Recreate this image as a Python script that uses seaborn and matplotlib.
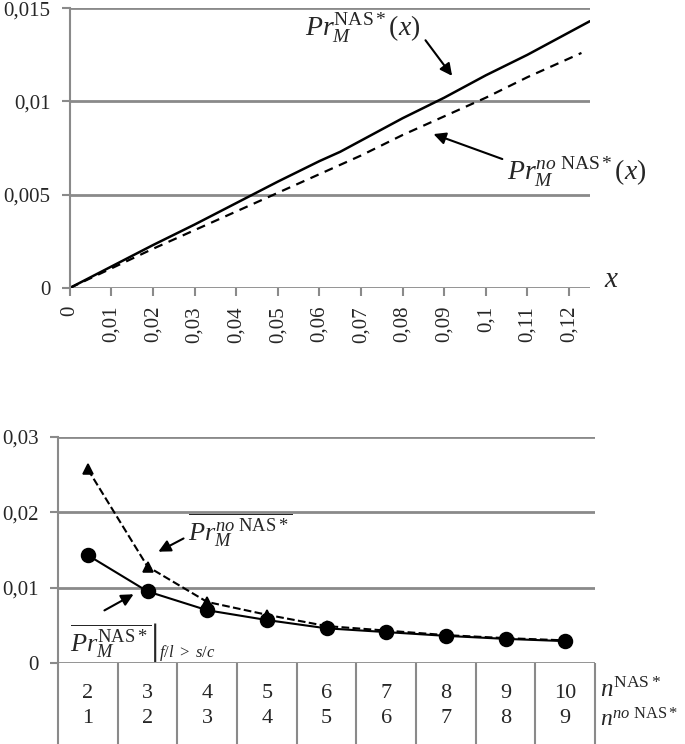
import numpy as np
import matplotlib
matplotlib.use("Agg")
import matplotlib.pyplot as plt
import seaborn as sns

# top panel: probability vs x
x_vals = [0.0, 0.01, 0.02, 0.03, 0.04, 0.05, 0.06, 0.065, 0.07, 0.08, 0.09, 0.10, 0.11, 0.12, 0.125]
pr_nas = [0.0, 0.00115, 0.0023, 0.0034, 0.00455, 0.0057, 0.0068, 0.0073, 0.0079, 0.0091, 0.0102,
          0.0114, 0.0125, 0.0137, 0.0143]
x_vals_no = [0.0, 0.01, 0.02, 0.03, 0.04, 0.05, 0.06, 0.07, 0.08, 0.09, 0.10, 0.11, 0.12, 0.123]
pr_no_nas = [0.0, 0.00105, 0.0021, 0.0031, 0.0041, 0.0051, 0.0061, 0.0071, 0.0082, 0.0092,
             0.0102, 0.0113, 0.0123, 0.0126]
top_xticks = [0, 0.01, 0.02, 0.03, 0.04, 0.05, 0.06, 0.07, 0.08, 0.09, 0.1, 0.11, 0.12]
top_xlabels = ["0", "0,01", "0,02", "0,03", "0,04", "0,05", "0,06", "0,07", "0,08", "0,09",
               "0,1", "0,11", "0,12"]
top_yticks = [0, 0.005, 0.01, 0.015]
top_ylabels = ["0", "0,005", "0,01", "0,015"]

# bottom panel: mean probability vs number of agents
n_nas = ["2", "3", "4", "5", "6", "7", "8", "9", "10"]
n_no_nas = ["1", "2", "3", "4", "5", "6", "7", "8", "9"]
pr_bar_nas = [0.0143, 0.0095, 0.0070, 0.0057, 0.0046, 0.0041, 0.0036, 0.0032, 0.0029]
pr_bar_no_nas = [0.0257, 0.0128, 0.0081, 0.0064, 0.0049, 0.0043, 0.0037, 0.0033, 0.0030]
bot_yticks = [0, 0.01, 0.02, 0.03]
bot_ylabels = ["0", "0,01", "0,02", "0,03"]

sns.set_style("white")
plt.rcParams["font.family"] = ["Liberation Serif", "DejaVu Serif"]
plt.rcParams["mathtext.fontset"] = "custom"
plt.rcParams["mathtext.rm"] = "Liberation Serif"
plt.rcParams["mathtext.it"] = "Liberation Serif:italic"
plt.rcParams["mathtext.bf"] = "Liberation Serif:bold"

grid_c = "#8a8a8a"
fig = plt.figure(figsize=(6.85, 7.44), dpi=100)

# ---------- top ----------
ax1 = fig.add_axes([0.102, 0.613, 0.759, 0.376])
sns.lineplot(x=x_vals, y=pr_nas, color="black", lw=1.8, ax=ax1)
sns.lineplot(x=x_vals_no, y=pr_no_nas, color="black", lw=1.6, ls=(0, (4, 3)), ax=ax1)
ax1.set_xlim(0, 0.125)
ax1.set_ylim(0, 0.015)
ax1.set_xticks(top_xticks)
ax1.set_xticklabels(top_xlabels, rotation=90, fontsize=15)
ax1.set_yticks(top_yticks)
ax1.set_yticklabels(top_ylabels, fontsize=15)
ax1.yaxis.grid(True, color=grid_c, lw=2)
ax1.set_axisbelow(True)
for s in ["top", "right", "bottom"]:
    ax1.spines[s].set_visible(False)
ax1.spines["left"].set_color(grid_c)
ax1.spines["left"].set_linewidth(1.5)
ax1.tick_params(axis="y", color=grid_c, length=6, width=1.5, left=True, pad=8)
ax1.tick_params(axis="x", color=grid_c, length=6, width=1.5, bottom=True, pad=7)
ax1.text(0.1285, 0.00005, "$x$", fontsize=21, va="baseline", ha="left", clip_on=False)

ax1.annotate("", xy=(0.0923, 0.01125), xytext=(0.0851, 0.0134),
             arrowprops=dict(arrowstyle="-|>", color="black", lw=1.5, mutation_scale=18))
ax1.text(0.0565, 0.0139, r"$Pr_M^{\mathrm{NAS*}}(x)$", fontsize=20, va="center", ha="left")
ax1.annotate("", xy=(0.0868, 0.0083), xytext=(0.1046, 0.00686),
             arrowprops=dict(arrowstyle="-|>", color="black", lw=1.5, mutation_scale=18))
ax1.text(0.105, 0.0062, r"$Pr_M^{no\ \mathrm{NAS*}}(x)$", fontsize=20, va="center",
         ha="left", clip_on=False)

# ---------- bottom ----------
ax2 = fig.add_axes([0.0847, 0.1089, 0.784, 0.3038])
sns.pointplot(x=n_nas, y=pr_bar_no_nas, order=n_nas, color="black", markers="^",
              linestyles="--", markersize=7, linewidth=1.5, ax=ax2)
sns.pointplot(x=n_nas, y=pr_bar_nas, order=n_nas, color="black", markers="o",
              linestyles="-", markersize=10, linewidth=1.5, ax=ax2)
ax2.set_xlim(-0.5, len(n_nas) - 0.5)
ax2.set_ylim(0, 0.03)
ax2.set_yticks(bot_yticks)
ax2.set_yticklabels(bot_ylabels, fontsize=15)
ax2.set_xticks([])
ax2.set_xlabel("")
ax2.set_ylabel("")
ax2.yaxis.grid(True, color=grid_c, lw=2)
ax2.set_axisbelow(True)
for s in ["top", "right", "bottom"]:
    ax2.spines[s].set_visible(False)
ax2.spines["left"].set_color(grid_c)
ax2.spines["left"].set_linewidth(1.5)
ax2.tick_params(axis="y", color=grid_c, length=6, width=1.5, left=True, pad=8)

# category table under the axis
xt = ax2.get_xaxis_transform()
bounds = np.arange(len(n_nas) + 1) - 0.5
ax2.vlines(bounds, -0.36, 0, transform=xt, color=grid_c, lw=1.5, clip_on=False)
for i, (a, b) in enumerate(zip(n_nas, n_no_nas)):
    ax2.text(i, -0.135, a, transform=xt, ha="center", va="center", fontsize=16)
    ax2.text(i, -0.245, b, transform=xt, ha="center", va="center", fontsize=16)
ax2.text(8.58, -0.12, r"$n^{\mathrm{NAS*}}$", transform=xt, ha="left", va="center", fontsize=18)
ax2.text(8.58, -0.25, r"$n^{no\ \mathrm{NAS*}}$", transform=xt, ha="left", va="center", fontsize=17)

ax2.annotate("", xy=(1.14, 0.0146), xytext=(1.645, 0.0167),
             arrowprops=dict(arrowstyle="-|>", color="black", lw=1.5, mutation_scale=18))
ax2.text(1.68, 0.0176, r"$\overline{Pr_M^{no\ \mathrm{NAS*}}}$", fontsize=19, va="center", ha="left")
ax2.annotate("", xy=(0.807, 0.0093), xytext=(0.237, 0.0068),
             arrowprops=dict(arrowstyle="-|>", color="black", lw=1.5, mutation_scale=18))
ax2.text(-0.3, 0.0029, r"$\overline{Pr_M^{\mathrm{NAS*}}}$", fontsize=19, va="center", ha="left")
ax2.text(1.06, 0.0027, "|", fontsize=30, va="center", ha="left")
ax2.text(1.2, 0.0013, r"$f/l\ >\ s/c$", fontsize=12, va="center", ha="left")

fig.savefig("out.png", dpi=100)
